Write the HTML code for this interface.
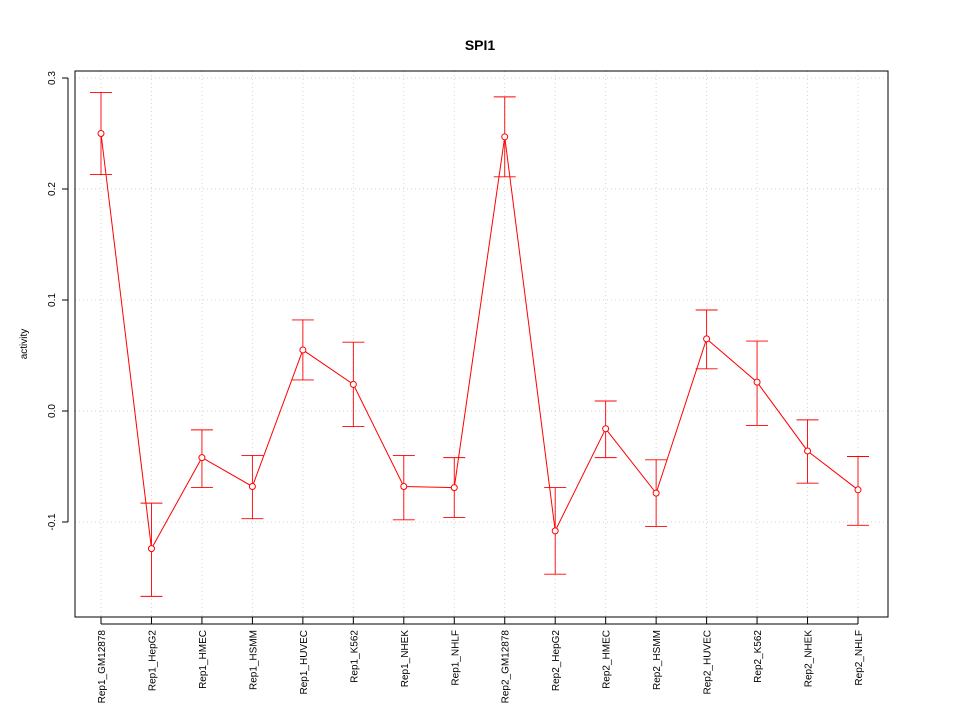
<!DOCTYPE html>
<html><head><meta charset="utf-8"><style>body{margin:0;background:#fff}svg{display:block;font-family:"Liberation Sans",sans-serif}</style></head>
<body>
<svg id="chart" width="960" height="720">
<text x="480" y="50" text-anchor="middle" font-weight="bold" font-size="14">SPI1</text>
<text transform="translate(27,344) rotate(-90)" text-anchor="middle" font-size="10">activity</text>
<g id="grid"></g><g id="axes"></g><g id="marks"></g>
<rect x="75" y="71" width="813" height="546" fill="none" stroke="#000"/>
</svg>
<script>
const categories=["Rep1_GM12878","Rep1_HepG2","Rep1_HMEC","Rep1_HSMM","Rep1_HUVEC","Rep1_K562","Rep1_NHEK","Rep1_NHLF","Rep2_GM12878","Rep2_HepG2","Rep2_HMEC","Rep2_HSMM","Rep2_HUVEC","Rep2_K562","Rep2_NHEK","Rep2_NHLF"];
const values=[0.250,-0.124,-0.042,-0.068,0.055,0.024,-0.068,-0.069,0.247,-0.108,-0.016,-0.074,0.065,0.026,-0.036,-0.071];
const upper=[0.287,-0.083,-0.017,-0.040,0.082,0.062,-0.040,-0.042,0.283,-0.069,0.009,-0.044,0.091,0.063,-0.008,-0.041];
const lower=[0.213,-0.167,-0.069,-0.097,0.028,-0.014,-0.098,-0.096,0.211,-0.147,-0.042,-0.104,0.038,-0.013,-0.065,-0.103];
const yTicks=[-0.1,0.0,0.1,0.2,0.3];
const yTickLabels=["-0.1","0.0","0.1","0.2","0.3"];
const NS="http://www.w3.org/2000/svg";
const xs=i=>101+i*(858-101)/(categories.length-1);
const ys=v=>411-v*1110;
function mk(p,t,a){const e=document.createElementNS(NS,t);for(const k in a)e.setAttribute(k,a[k]);p.appendChild(e);return e;}
const grid=document.getElementById('grid'),axes=document.getElementById('axes'),marks=document.getElementById('marks');
yTicks.forEach((v,i)=>{
 const g=mk(grid,'line',{x1:75,x2:888,y1:ys(v),y2:ys(v),stroke:'#d3d3d3','stroke-dasharray':'1,3'});
 
 
 const t=mk(axes,'line',{x1:62,x2:68,y1:ys(v),y2:ys(v),stroke:'#000'});
 
 
 const l=mk(axes,'text',{transform:`translate(55,${ys(v)}) rotate(-90)`,'text-anchor':'middle','font-size':10});
 l.textContent=yTickLabels[i];
 
 
});
mk(axes,'line',{x1:68,x2:68,y1:ys(0.3),y2:ys(-0.1),stroke:'#000'});
categories.forEach((c,i)=>{
 const x=xs(i);
 const g=mk(grid,'line',{x1:x,x2:x,y1:71,y2:617,stroke:'#d3d3d3','stroke-dasharray':'1,3'});
 
 
 const t=mk(axes,'line',{x1:x,x2:x,y1:617,y2:624,stroke:'#000'});
 
 
 const l=mk(axes,'text',{transform:`translate(${x+4},630) rotate(-90)`,'text-anchor':'end','font-size':10});
 l.textContent=c;
 
 
});
mk(axes,'line',{x1:xs(0),x2:xs(categories.length-1),y1:624,y2:624,stroke:'#000'});
const line=mk(marks,'polyline',{points:values.map((v,i)=>xs(i)+','+ys(v)).join(' '),fill:'none',stroke:'#f00'});


values.forEach((v,i)=>{
 const x=xs(i);
 const e=mk(marks,'path',{d:`M${x},${ys(upper[i])}V${ys(lower[i])}M${x-11},${ys(upper[i])}H${x+11}M${x-11},${ys(lower[i])}H${x+11}`,stroke:'#f00',fill:'none','stroke-width':0.9});
 
 
 const p=mk(marks,'circle',{cx:x,cy:ys(v),r:3,fill:'#fff',stroke:'#f00'});
 
 
});
</script>
</body></html>
